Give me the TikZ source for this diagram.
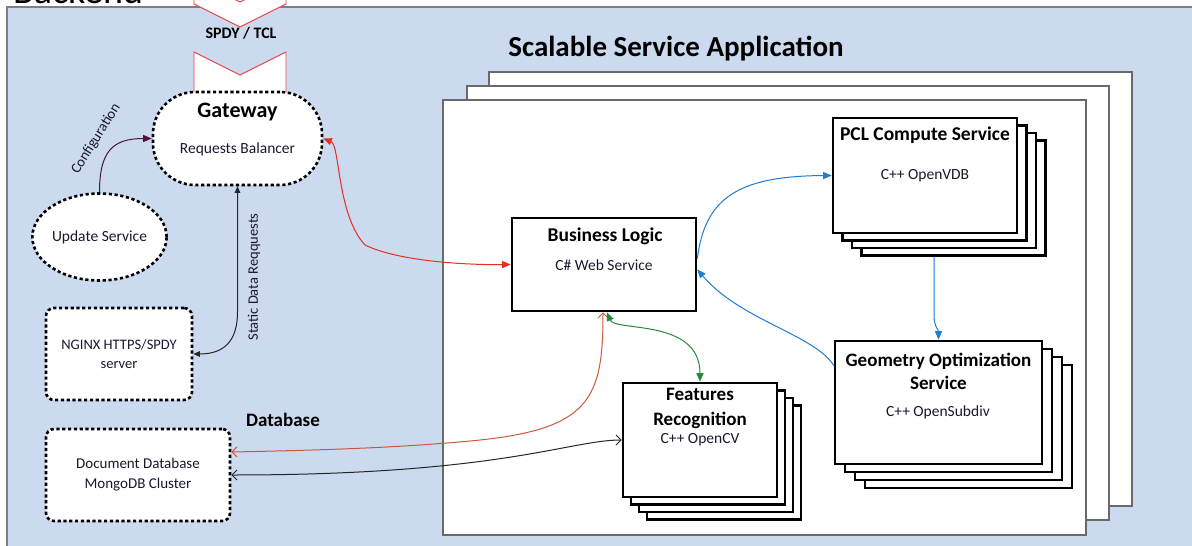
\documentclass[tikz,border=0pt]{standalone}
\usepackage{fontspec}
\setmainfont{Carlito}
\usetikzlibrary{arrows.meta,shapes.geometric}

\definecolor{bkfill}{RGB}{204,218,240}
\definecolor{bkline}{RGB}{128,128,128}
\definecolor{ctrline}{RGB}{105,105,105}
\definecolor{chevred}{RGB}{232,70,70}
\definecolor{linkred}{RGB}{232,45,35}
\definecolor{linkorange}{RGB}{200,90,60}
\definecolor{linkgreen}{RGB}{35,140,60}
\definecolor{linkblue}{RGB}{30,125,205}
\definecolor{linkpurple}{RGB}{80,20,60}
\definecolor{txt}{RGB}{25,25,45}

\tikzset{
  tipF/.tip={Triangle[length=8.5pt,width=7pt]},
  tipS/.tip={Triangle[length=6.5pt,width=5.5pt]},
  tipO/.tip={Straight Barb[length=5pt,width=10pt,line width=1pt]},
}

\begin{document}
\begin{tikzpicture}[x=1pt,y=-1pt,
  dashbox/.style={draw=black,fill=white,line width=2.6pt,dash pattern=on 3.2pt off 2.6pt},
  svc/.style={draw=black,fill=white,line width=2.6pt,rectangle,inner sep=0pt},
  ctr/.style={draw=ctrline,fill=white,line width=1.5pt},
  ttl/.style={font=\fontsize{19.5}{23.5}\selectfont\bfseries,align=center,inner sep=0pt},
  sub/.style={font=\fontsize{15.5}{20}\selectfont,text=txt,align=center,inner sep=0pt},
  lbl/.style={font=\fontsize{14.5}{17}\selectfont,text=txt,inner sep=0pt},
  link/.style={line width=1pt},
]
\useasboundingbox (0,0) rectangle (1192,546);
\clip (0,0) rectangle (1192,546);

% backend area
\fill[white] (0,0) rectangle (1192,546);
\draw[fill=bkfill,draw=bkline,line width=1.5pt] (7,7) rectangle (1210,570);
\node[anchor=base west,inner sep=0pt,font=\fontsize{38}{40}\selectfont] (backend) at (13,3) {Backend};

% incoming SPDY / TCL chevrons
\draw[draw=chevred,fill=white,line width=0.9pt]
  (194,-21) -- (240,2) -- (286,-21) -- (286,4) -- (240,27) -- (194,4) -- cycle;
\draw[draw=chevred,fill=white,line width=0.9pt]
  (194,52) -- (240,75) -- (286,52) -- (286,100) -- (240,123) -- (194,100) -- cycle;
\node[font=\fontsize{16}{18}\selectfont\bfseries,inner sep=0pt] (proto) at (241,33) {SPDY / TCL};

% scalable application instances
\draw[ctr] (489,72) rectangle (1132,506);
\draw[ctr] (467,86) rectangle (1109,520);
\draw[ctr] (443,100) rectangle (1086,535);
\node[font=\fontsize{29}{32}\selectfont\bfseries,inner sep=0pt] (apptitle) at (676,49) {Scalable Service Application};

% gateway and side services
\node[dashbox,rounded corners=42pt,minimum width=169pt,minimum height=93pt] (gw) at (237.5,138.5) {};
\node[font=\fontsize{22}{24}\selectfont\bfseries,inner sep=0pt] (gwtitle) at (237.5,112) {Gateway};
\node[sub] (gwsub) at (237.5,149) {Requests Balancer};

\node[dashbox,ellipse,minimum width=115pt,minimum height=87pt,inner sep=0pt,
      font=\fontsize{15.5}{19}\selectfont,text=txt] (us) at (99.5,237) {Update Service};

\node[dashbox,rounded corners=8pt,minimum width=146pt,minimum height=92pt,align=center,
      font=\fontsize{14.5}{19}\selectfont,text=txt] (ngx) at (119,354) {NGINX HTTPS/SPDY\\server};

\node[dashbox,rounded corners=8pt,minimum width=184pt,minimum height=92pt,align=center,
      font=\fontsize{15}{20}\selectfont,text=txt] (db) at (138,475) {Document Database\\MongoDB Cluster};
\node[ttl,font=\fontsize{19}{22}\selectfont\bfseries] (dblabel) at (283,420) {Database};

% business logic
\node[svc,minimum width=184pt,minimum height=93pt] (bl) at (604,264.5) {};
\node[ttl] (bltitle) at (605,236) {Business Logic};
\node[sub] (blsub) at (604,265) {C\# Web Service};

% PCL compute service stack
\node[svc,minimum width=184pt,minimum height=115pt] (pcl3) at (953.5,198) {};
\node[svc,minimum width=184pt,minimum height=115pt] (pcl2) at (944,190.5) {};
\node[svc,minimum width=184pt,minimum height=115pt] (pcl1) at (934.5,183) {};
\node[svc,minimum width=184pt,minimum height=115pt] (pcl) at (925,175.5) {};
\node[ttl] (pcltitle) at (925,135) {PCL Compute Service};
\node[sub] (pclsub) at (925,176) {C++ OpenVDB};

% geometry optimization stack
\node[svc,minimum width=207pt,minimum height=123pt] (geo3) at (968.5,426.5) {};
\node[svc,minimum width=207pt,minimum height=123pt] (geo2) at (958.5,418.5) {};
\node[svc,minimum width=207pt,minimum height=123pt] (geo1) at (948.5,410.5) {};
\node[svc,minimum width=207pt,minimum height=123pt] (geo) at (938.5,402.5) {};
\node[ttl,font=\fontsize{19}{23}\selectfont\bfseries] (geotitle) at (938.5,371.5) {Geometry Optimization\\Service};
\node[sub] (geosub) at (938,412) {C++ OpenSubdiv};

% features recognition stack
\node[svc,minimum width=154pt,minimum height=114pt] (feat3) at (724,462.5) {};
\node[svc,minimum width=154pt,minimum height=114pt] (feat2) at (716,455) {};
\node[svc,minimum width=154pt,minimum height=114pt] (feat1) at (708,447.5) {};
\node[svc,minimum width=154pt,minimum height=114pt] (feat) at (700,440) {};
\node[ttl,font=\fontsize{19}{24.5}\selectfont\bfseries] (feattitle) at (700,408.5) {Features\\Recognition};
\node[sub] (featsub) at (700,440) {C++ OpenCV};

% connectors
\draw[link,draw=linkpurple,-tipF] (us.north) .. controls (99.5,152) and (112,138.5) .. (gw.west);
\node[lbl,rotate=58] (cfg) at (96,139) {Configuration};

\draw[link,draw=black!85,tipS-tipS] (gw.south) -- (237.5,312)
  .. controls (237.5,340) and (225,354) .. (ngx.east);
\node[lbl,rotate=90] (sdr) at (254,277) {Static Data Reqquests};

\draw[link,draw=linkred,tipF-tipF] (gw.east) .. controls (340,145) and (337,215) .. (365,245)
  .. controls (400,262) and (470,265) .. (bl.west);

\draw[link,draw=linkorange,tipO-tipO] ([yshift=23pt]db.east) .. controls (330,450) and (400,447.5) .. (470,441)
  .. controls (590,430) and (603,400) .. ([xshift=-1pt]bl.south);

\draw[link,draw=black!85,tipO-tipO] (db.east) .. controls (500,475) and (570,440) .. (feat.west);

\draw[link,draw=linkgreen,tipF-tipF] ([xshift=3pt]bl.south) .. controls (615,332) and (700,318) .. (feat.north);

\draw[link,draw=linkblue,-tipF] ([yshift=6pt]bl.east) .. controls (705,200) and (735,176) .. (pcl.west);
\draw[link,draw=linkblue,-tipF] ([xshift=-19.5pt]pcl3.south) -- ++(0,58)
  .. controls +(0,12) and (938.5,330) .. (geo.north);
\draw[link,draw=linkblue,-tipF] ([yshift=37pt]geo.west) .. controls (815,335) and (740,320) .. ([yshift=-5pt]bl.east);
\end{tikzpicture}
\end{document}
